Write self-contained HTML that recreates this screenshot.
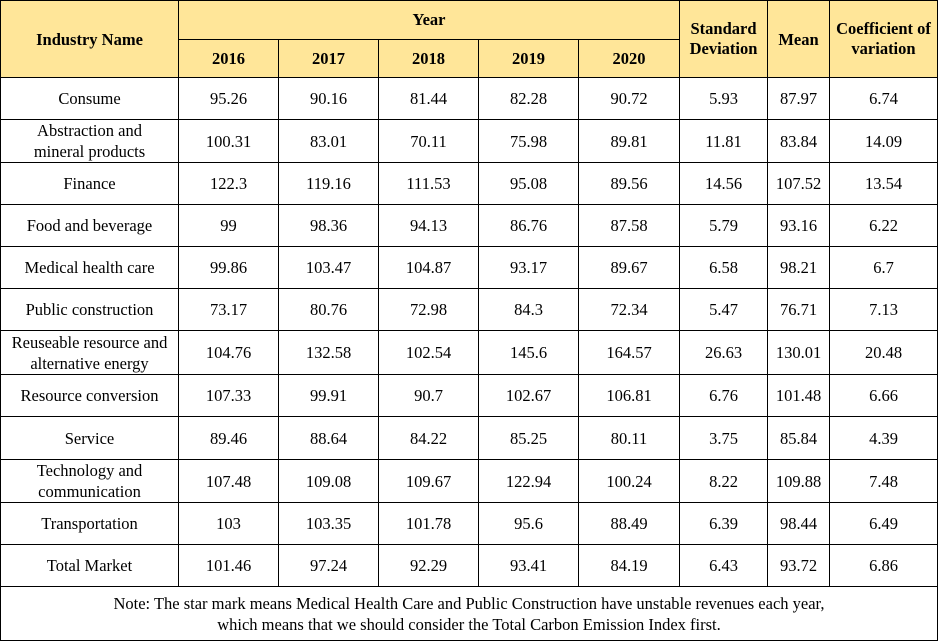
<!DOCTYPE html>
<html><head><meta charset="utf-8"><style>
body{margin:0;background:#fff;}
table{border-collapse:collapse;table-layout:fixed;width:937px;font-family:"Liberation Serif",serif;font-size:16.5px;color:#000;}
td{border:1px solid #000;text-align:center;vertical-align:middle;padding:0;line-height:21px;overflow:hidden;white-space:nowrap;}
.h td,td.h{background:#FFE699;font-weight:bold;}
</style></head><body>
<table>
<colgroup><col style="width:178px"><col style="width:100px"><col style="width:100px"><col style="width:100px"><col style="width:100px"><col style="width:101px"><col style="width:88px"><col style="width:62px"><col style="width:108px"></colgroup>
<tr class="h" style="height:39px"><td rowspan="2">Industry Name</td><td colspan="5" style="vertical-align:top;padding-top:8px">Year</td><td rowspan="2" style="line-height:20px">Standard<br>Deviation</td><td rowspan="2">Mean</td><td rowspan="2" style="line-height:20px">Coefficient of<br>variation</td></tr>
<tr class="h" style="height:38px"><td>2016</td><td>2017</td><td>2018</td><td>2019</td><td>2020</td></tr>
<tr style="height:42px"><td>Consume</td><td>95.26</td><td>90.16</td><td>81.44</td><td>82.28</td><td>90.72</td><td>5.93</td><td>87.97</td><td>6.74</td></tr>
<tr style="height:42px"><td>Abstraction and<br>mineral products</td><td>100.31</td><td>83.01</td><td>70.11</td><td>75.98</td><td>89.81</td><td>11.81</td><td>83.84</td><td>14.09</td></tr>
<tr style="height:42px"><td>Finance</td><td>122.3</td><td>119.16</td><td>111.53</td><td>95.08</td><td>89.56</td><td>14.56</td><td>107.52</td><td>13.54</td></tr>
<tr style="height:42px"><td>Food and beverage</td><td>99</td><td>98.36</td><td>94.13</td><td>86.76</td><td>87.58</td><td>5.79</td><td>93.16</td><td>6.22</td></tr>
<tr style="height:42px"><td>Medical health care</td><td>99.86</td><td>103.47</td><td>104.87</td><td>93.17</td><td>89.67</td><td>6.58</td><td>98.21</td><td>6.7</td></tr>
<tr style="height:42px"><td>Public construction</td><td>73.17</td><td>80.76</td><td>72.98</td><td>84.3</td><td>72.34</td><td>5.47</td><td>76.71</td><td>7.13</td></tr>
<tr style="height:44px"><td>Reuseable resource and<br>alternative energy</td><td>104.76</td><td>132.58</td><td>102.54</td><td>145.6</td><td>164.57</td><td>26.63</td><td>130.01</td><td>20.48</td></tr>
<tr style="height:42px"><td>Resource conversion</td><td>107.33</td><td>99.91</td><td>90.7</td><td>102.67</td><td>106.81</td><td>6.76</td><td>101.48</td><td>6.66</td></tr>
<tr style="height:43px"><td>Service</td><td>89.46</td><td>88.64</td><td>84.22</td><td>85.25</td><td>80.11</td><td>3.75</td><td>85.84</td><td>4.39</td></tr>
<tr style="height:43px"><td>Technology and<br>communication</td><td>107.48</td><td>109.08</td><td>109.67</td><td>122.94</td><td>100.24</td><td>8.22</td><td>109.88</td><td>7.48</td></tr>
<tr style="height:42px"><td>Transportation</td><td>103</td><td>103.35</td><td>101.78</td><td>95.6</td><td>88.49</td><td>6.39</td><td>98.44</td><td>6.49</td></tr>
<tr style="height:42px"><td>Total Market</td><td>101.46</td><td>97.24</td><td>92.29</td><td>93.41</td><td>84.19</td><td>6.43</td><td>93.72</td><td>6.86</td></tr>
<tr style="height:54px"><td colspan="9">Note: The star mark means Medical Health Care and Public Construction have unstable revenues each year,<br>which means that we should consider the Total Carbon Emission Index first.</td></tr>
</table>
</body></html>
